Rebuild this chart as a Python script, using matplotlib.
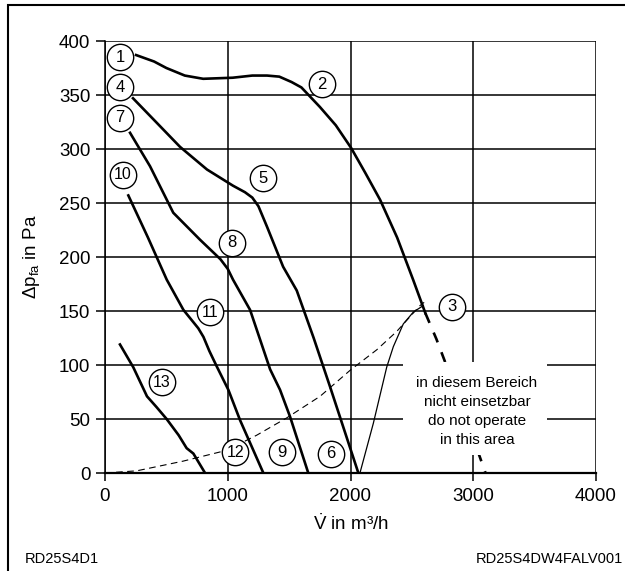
import matplotlib
matplotlib.use('Agg')
import matplotlib.pyplot as plt
from matplotlib.patches import Rectangle

plt.rcParams['font.family'] = ['Liberation Sans', 'DejaVu Sans']
plt.rcParams['mathtext.fontset'] = 'custom'
plt.rcParams['mathtext.rm'] = 'Liberation Sans'
plt.rcParams['mathtext.it'] = 'Liberation Sans:italic'

# curve 1 / 2 / 3 (solid part, then dashed beyond the stall line)
c1_x = [253, 400, 500, 650, 800, 1040, 1200, 1320, 1420, 1520, 1600, 1750, 1880, 2005,
        2120, 2241, 2380, 2510, 2610]
c1_y = [387, 381, 375, 368, 365, 366, 368, 368, 367, 362, 357, 339, 322, 301,
        278, 253, 218, 179, 148]
c1d_x = [2610, 2700, 2800, 2950, 3100]
c1d_y = [148, 124, 94, 48, 0]

# curve 4 / 5 / 6
c4_x = [228, 424, 611, 831, 1043, 1140, 1200, 1250, 1320, 1451, 1562, 1700, 1833, 2064]
c4_y = [347, 324, 302, 281, 266, 260, 255, 247, 228, 191, 169, 125, 80, 0]

# curve 7 / 8 / 9
c7_x = [204, 367, 556, 774, 940, 1000, 1043, 1182, 1345, 1426, 1508, 1656]
c7_y = [315, 284, 241, 216, 198, 189, 179, 151, 96, 77, 52, 0]

# curve 10 / 11 / 12
c10_x = [190, 350, 503, 639, 760, 802, 850, 909, 1005, 1100, 1290]
c10_y = [257, 218, 179, 151, 134, 126, 113, 99, 77, 49, 0]

# curve 13
c13_x = [122, 230, 342, 420, 502, 600, 665, 720, 815]
c13_y = [119, 98, 71, 61, 50, 35, 23, 18, 0]

# system curve (dashed) and stall limit (thin)
sys_x = [0, 258, 637, 991, 1236, 1480, 1752, 1996, 2213, 2376, 2566, 2600]
sys_y = [0, 2, 11, 21, 35, 51, 71, 95, 114, 131, 155, 158]
stall_x = [2077, 2186, 2295, 2349, 2430, 2512, 2593]
stall_y = [0, 46, 98, 117, 138, 149, 155]

# circled labels
lab_txt = ['1', '2', '3', '4', '5', '6', '7', '8', '9', '10', '11', '12', '13']
lab_x = [122, 1768, 2828, 122, 1288, 1842, 122, 1035, 1443, 147, 856, 1060, 465]
lab_y = [385, 360, 154, 357, 273, 18, 329, 213, 19, 276, 149, 19, 84]

xticks = [0, 1000, 2000, 3000, 4000]
yticks = [0, 50, 100, 150, 200, 250, 300, 350, 400]

fig = plt.figure(figsize=(6.25, 5.71), dpi=100)
ax = fig.add_axes([105 / 625, 1 - 473 / 571, 491 / 625, 432 / 571])
ax.set_xlim(0, 4000)
ax.set_ylim(0, 400)
ax.set_xticks(xticks)
ax.set_yticks(yticks)
ax.grid(True, color='black', lw=1.1)
ax.set_axisbelow(True)
for s in ['top', 'right']:
    ax.spines[s].set_visible(False)
ax.spines['left'].set_linewidth(1.1)
ax.spines['bottom'].set_linewidth(1.6)
ax.tick_params(axis='x', length=6, width=1.1, labelsize=13.5, pad=5)
ax.tick_params(axis='y', length=6.5, width=1.1, labelsize=13.5, pad=4)

lw = 1.9
ax.plot(c1_x, c1_y, color='black', lw=lw, zorder=3)
ax.plot(c1d_x, c1d_y, color='black', lw=lw, ls=(0, (4, 4)), zorder=3)
ax.plot(c4_x, c4_y, color='black', lw=lw, zorder=3)
ax.plot(c7_x, c7_y, color='black', lw=lw, zorder=3)
ax.plot(c10_x, c10_y, color='black', lw=lw, zorder=3)
ax.plot(c13_x, c13_y, color='black', lw=lw, zorder=3)
ax.plot(sys_x, sys_y, color='black', lw=0.8, ls=(0, (6, 4)), zorder=3)
ax.plot(stall_x, stall_y, color='black', lw=0.9, zorder=3)

# white area with the warning text
ax.add_patch(Rectangle((2430, 17), 1170, 86, fc='white', ec='none', zorder=4))
ax.text(3031, 57, 'in diesem Bereich\nnicht einsetzbar\ndo not operate\nin this area',
        ha='center', va='center', fontsize=11, linespacing=1.45, zorder=5)

ax.plot(lab_x, lab_y, 'o', ms=19, mfc='white', mec='black', mew=1.0, ls='none',
        zorder=6, clip_on=False)
for t, x, y in zip(lab_txt, lab_x, lab_y):
    ax.text(x, y, t, ha='center', va='center', fontsize=12 if len(t) == 1 else 11.5,
            zorder=7)

ax.set_xlabel(r'$\dot{\mathrm{V}}$ in m³/h', fontsize=13.5, labelpad=6)
ax.set_ylabel(r'$\Delta\mathrm{p}_{\mathrm{fa}}$ in Pa', fontsize=13.5, labelpad=12)

fig.text(25 / 625, 1 - 559 / 571, 'RD25S4D1', fontsize=10.5, ha='left', va='center')
fig.text(623 / 625, 1 - 559 / 571, 'RD25S4DW4FALV001', fontsize=10.5, ha='right', va='center')

# outer frame (left and top edges visible)
fig.add_artist(Rectangle((8 / 625, -0.2), 1.2, 0.2 + 1 - 5 / 571, transform=fig.transFigure,
                         fill=False, ec='black', lw=1.5))

fig.savefig('out.png', dpi=100)
